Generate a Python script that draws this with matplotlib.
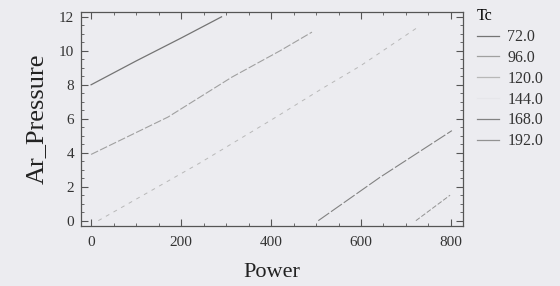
import matplotlib
matplotlib.use('Agg')
import matplotlib.pyplot as plt
from matplotlib.lines import Line2D
from matplotlib.ticker import MultipleLocator

# contour levels of Tc and the lines (Power, Ar_Pressure)
levels = ['72.0', '96.0', '120.0', '144.0', '168.0', '192.0']
power_72 = [0, 100, 200, 290]
press_72 = [8.0, 9.4, 10.75, 12.0]
power_96 = [0, 171, 313, 382, 420, 491]
press_96 = [3.9, 6.1, 8.45, 9.45, 10.0, 11.1]
power_120 = [16, 242, 405, 515, 598, 727]
press_120 = [0.0, 3.4, 6.0, 7.8, 9.1, 11.4]
power_168 = [505, 642, 802]
press_168 = [0.0, 2.55, 5.3]
power_192 = [722, 798]
press_192 = [0.0, 1.5]

bg = '#ececf0'
line_colors = ['#747474', '#a0a0a0', '#b8b8b8', '#e6e6ea', '#828282', '#929292']

plt.rcParams['font.family'] = ['Liberation Serif', 'DejaVu Serif']

fig = plt.figure(figsize=(5.6, 2.86), dpi=100, facecolor=bg)
ax = fig.add_axes([0.145, 0.21, 0.682, 0.749], facecolor=bg)

ax.plot(power_72, press_72, color=line_colors[0], lw=0.9)
ax.plot(power_96, press_96, color=line_colors[1], lw=0.8, dashes=(7, 2))
ax.plot(power_120, press_120, color=line_colors[2], lw=0.7, dashes=(4, 5))
ax.plot(power_168, press_168, color=line_colors[4], lw=0.8, dashes=(12, 2))
ax.plot(power_192, press_192, color=line_colors[5], lw=0.7, dashes=(5, 2))

ax.set_xlim(-22, 827)
ax.set_ylim(-0.31, 12.3)
ax.xaxis.set_major_locator(MultipleLocator(200))
ax.xaxis.set_minor_locator(MultipleLocator(50))
ax.yaxis.set_major_locator(MultipleLocator(2))
ax.yaxis.set_minor_locator(MultipleLocator(0.5))
ax.tick_params(which='both', direction='in', top=True, right=True,
               colors='#555555', labelcolor='#333333', labelsize=11)
ax.tick_params(which='major', length=5, width=0.8)
ax.tick_params(axis='x', which='major', pad=7)
ax.tick_params(axis='y', which='major', pad=5)
ax.tick_params(which='minor', length=2.5, width=0.6)
for s in ax.spines.values():
    s.set_color('#555555')
    s.set_linewidth(0.9)

ax.set_xlabel('Power', fontsize=16, color='#222222', labelpad=10)
ax.set_ylabel('Ar_Pressure', fontsize=19, color='#222222', labelpad=8)

handles = [Line2D([], [], color=c, lw=0.9) for c in line_colors]
leg = ax.legend(handles, levels, title='Tc', loc='upper left',
                bbox_to_anchor=(1.02, 1.045), frameon=False, fontsize=11.5,
                title_fontsize=11.5, handlelength=1.35, handletextpad=0.55,
                labelspacing=0.3, alignment='left', borderaxespad=0)
for t in leg.get_texts():
    t.set_color('#333333')

fig.savefig('out.png', dpi=100, facecolor=bg)
